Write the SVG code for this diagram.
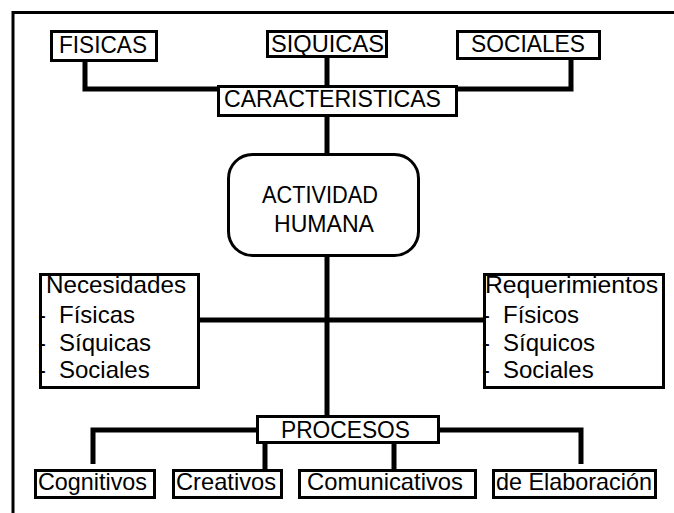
<svg xmlns="http://www.w3.org/2000/svg" width="674" height="513" viewBox="0 0 674 513">
<style>
.bx{fill:#fff;stroke:#000;stroke-width:3}
.ln{fill:none;stroke:#000;stroke-width:5}
.fr{fill:none;stroke:#000;stroke-width:3}
text{font-family:"Liberation Sans",Arial,sans-serif;font-size:24px;fill:#000}
</style>
<rect width="674" height="513" fill="#fff"/>
<path class="fr" d="M13,513 V12.5 H674"/>
<g id="connectors">
<path class="ln" d="M85,62 V89 H217"/>
<path class="ln" d="M327,58 V85"/>
<path class="ln" d="M571,60 V89 H458"/>
<path class="ln" d="M327,117 V153"/>
<path class="ln" d="M327,257 V415"/>
<path class="ln" d="M200,320 H483"/>
<path class="ln" d="M256,430 H93 V464"/>
<path class="ln" d="M440,430 H581 V464"/>
<path class="ln" d="M265,444 V469"/>
<path class="ln" d="M394,444 V469"/>
</g>
<g id="fisicas"><rect class="bx" x="51.5" y="31.5" width="105" height="29"/><text x="59" y="53" textLength="88" lengthAdjust="spacingAndGlyphs">FISICAS</text></g>
<g id="siquicas"><rect class="bx" x="267.5" y="31.5" width="119" height="25"/><text x="271" y="52" textLength="113" lengthAdjust="spacingAndGlyphs">SIQUICAS</text></g>
<g id="sociales"><rect class="bx" x="457.5" y="31.5" width="142" height="27"/><text x="471" y="52" textLength="114" lengthAdjust="spacingAndGlyphs">SOCIALES</text></g>
<g id="caracteristicas"><rect class="bx" x="218.5" y="86.5" width="238" height="29"/><text x="224" y="107" textLength="217" lengthAdjust="spacingAndGlyphs">CARACTERISTICAS</text></g>
<g id="actividad"><rect class="bx" x="228.5" y="154.5" width="190" height="101" rx="24" ry="24"/><text x="262" y="203" textLength="116" lengthAdjust="spacingAndGlyphs">ACTIVIDAD</text><text x="274" y="232" textLength="100" lengthAdjust="spacingAndGlyphs">HUMANA</text></g>
<g id="necesidades"><rect class="bx" x="40.5" y="274.5" width="158" height="113"/>
<text x="46" y="293" textLength="140" lengthAdjust="spacingAndGlyphs">Necesidades</text>
<text x="38" y="323">-<tspan x="59">Físicas</tspan></text>
<text x="38" y="351">-<tspan x="59">Síquicas</tspan></text>
<text x="38" y="378">-<tspan x="59">Sociales</tspan></text></g>
<g id="requerimientos"><rect class="bx" x="484.5" y="274.5" width="179" height="113"/>
<text x="485" y="293" textLength="173" lengthAdjust="spacingAndGlyphs">Requerimientos</text>
<text x="482" y="323">-<tspan x="503">Físicos</tspan></text>
<text x="482" y="351">-<tspan x="503">Síquicos</tspan></text>
<text x="482" y="378">-<tspan x="503">Sociales</tspan></text></g>
<g id="procesos"><rect class="bx" x="257.5" y="416.5" width="181" height="26"/><text x="281" y="438" textLength="129" lengthAdjust="spacingAndGlyphs">PROCESOS</text></g>
<g id="cognitivos"><rect class="bx" x="35.5" y="470.5" width="119" height="27"/><text x="38" y="490" textLength="109" lengthAdjust="spacingAndGlyphs">Cognitivos</text></g>
<g id="creativos"><rect class="bx" x="173.5" y="470.5" width="108" height="27"/><text x="176" y="490" textLength="100" lengthAdjust="spacingAndGlyphs">Creativos</text></g>
<g id="comunicativos"><rect class="bx" x="299.5" y="470.5" width="176" height="27"/><text x="307" y="490" textLength="156" lengthAdjust="spacingAndGlyphs">Comunicativos</text></g>
<g id="elaboracion"><rect class="bx" x="493.5" y="470.5" width="162" height="27"/><text x="496" y="490" textLength="156" lengthAdjust="spacingAndGlyphs">de Elaboración</text></g>
</svg>
